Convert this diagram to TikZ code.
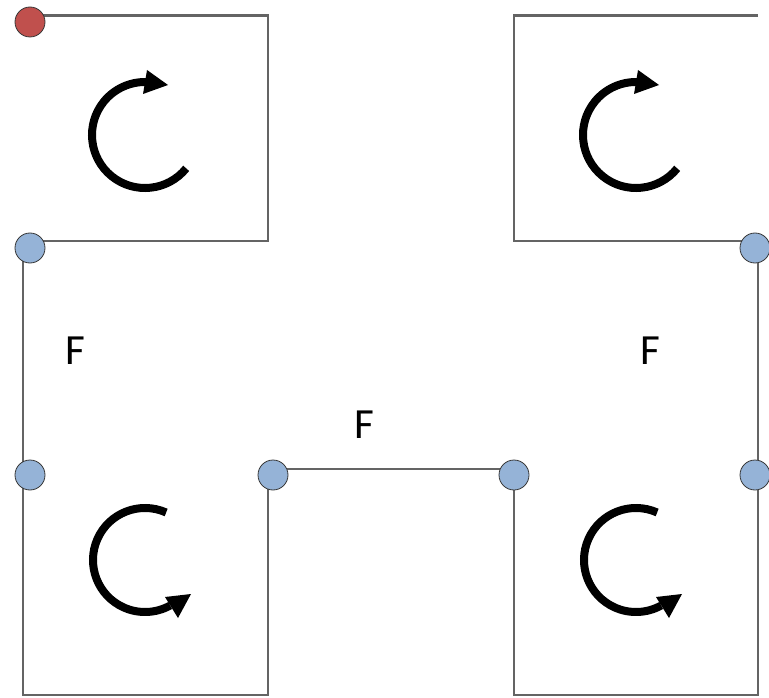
\documentclass[tikz,border=0pt]{standalone}
\usepackage{fontspec}
\setmainfont{Carlito}
\definecolor{linegray}{RGB}{100,100,100}
\definecolor{dotred}{RGB}{192,80,77}
\definecolor{dotblue}{RGB}{149,179,215}
\definecolor{dotedge}{RGB}{55,55,55}
\tikzset{
  wall/.style={draw=linegray, line width=2.3pt, line join=miter},
  dotnode/.style={circle, draw=dotedge, line width=0.8pt, minimum size=30pt, inner sep=0pt},
  reddot/.style={dotnode, fill=dotred},
  bluedot/.style={dotnode, fill=dotblue},
  flabel/.style={font=\fontsize{43}{43}\selectfont, inner sep=0pt},
  turn/.style={draw=black, line width=8pt},
  pics/cwturn/.style={code={
    \draw[turn] (39:53) arc[start angle=39, end angle=272, radius=53];
    \fill[black] (2,-65) -- (23,-50) -- (-2,-41) -- cycle;
  }},
  pics/ccwturn/.style={code={
    \draw[turn] (294:52) arc[start angle=294, end angle=61, radius=52];
    \fill[black] (20,37) -- (46,34) -- (33,58) -- cycle;
  }}
}
\begin{document}
\begin{tikzpicture}[x=1pt,y=-1pt]
\useasboundingbox (0,0) rectangle (769,698);
% corner coordinates
\coordinate (tl1) at (30,15.5);
\coordinate (tl2) at (268,15.5);
\coordinate (tl3) at (268,241);
\coordinate (tl4) at (30,241);
\coordinate (tr1) at (758,15.5);
\coordinate (tr2) at (514,15.5);
\coordinate (tr3) at (514,241);
\coordinate (tr4) at (755,241);
\coordinate (bl1) at (23,248);
\coordinate (bl2) at (23,695);
\coordinate (bl3) at (268,695);
\coordinate (bl4) at (268,475);
\coordinate (mid1) at (273,469);
\coordinate (mid2) at (514,469);
\coordinate (br1) at (514,475);
\coordinate (br2) at (514,695);
\coordinate (br3) at (758,695);
\coordinate (br4) at (758,248);
% walls
\draw[wall] (tl1) -- (tl2) -- (tl3) -- (tl4);
\draw[wall] (tr1) -- (tr2) -- (tr3) -- (tr4);
\draw[wall] (bl1) -- (bl2) -- (bl3) -- (bl4);
\draw[wall] (mid1) -- (mid2);
\draw[wall] (br1) -- (br2) -- (br3) -- (br4);
% rotation arrows
\pic at (145,135) {cwturn};
\pic at (636,135) {cwturn};
\pic at (145,560) {ccwturn};
\pic at (636,560) {ccwturn};
% dots
\node[reddot] (r0) at (30,22) {};
\node[bluedot] (b1) at (30,248) {};
\node[bluedot] (b2) at (30,475) {};
\node[bluedot] (b3) at (273,475) {};
\node[bluedot] (b4) at (514,475) {};
\node[bluedot] (b5) at (755,248) {};
\node[bluedot] (b6) at (755,475) {};
% labels
\node[flabel] (f1) at (75,351) {F};
\node[flabel] (f2) at (650,351) {F};
\node[flabel] (f3) at (364,425) {F};
\end{tikzpicture}
\end{document}
